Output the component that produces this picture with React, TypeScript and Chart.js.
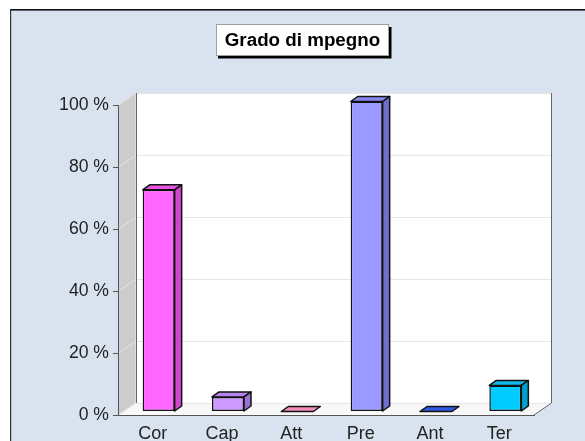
import React, { useEffect, useRef } from "react";
import { Chart, registerables } from "chart.js";

Chart.register(...registerables);

const titleText = "Grado di mpegno";
const categories = ["Cor", "Cap", "Att", "Pre", "Ant", "Ter"];
const values = [71.5, 4.7, 0, 100, 0, 8.4];
const faceColors = ["#FF66FF", "#CC99FF", "#FF99CC", "#9999FF", "#3366FF", "#00CCFF"];
const sideColors = ["#CC47CC", "#9A70D0", "#D07AA0", "#6F6FD0", "#2A4FC8", "#00A0CC"];
const topColors = ["#E455E4", "#B583EC", "#F08DBB", "#8787EC", "#3058E0", "#10B8E8"];
const yTicks = [0, 20, 40, 60, 80, 100];

const WALL_DX = 17.5;
const WALL_DY = 12;
const BAR_SHIFT_X = 6;
const BAR_SHIFT_Y = 3.5;
const BAR_DX = 7;
const BAR_DY = 5;
const INK = "#111111";

function poly(ctx: CanvasRenderingContext2D, pts: number[][], fill: string | null, stroke: string | null, lw = 1) {
  ctx.beginPath();
  pts.forEach(([x, y], i) => (i ? ctx.lineTo(x, y) : ctx.moveTo(x, y)));
  ctx.closePath();
  if (fill) {
    ctx.fillStyle = fill;
    ctx.fill();
  }
  if (stroke) {
    ctx.strokeStyle = stroke;
    ctx.lineWidth = lw;
    ctx.stroke();
  }
}

const scene = {
  id: "scene",
  afterLayout(chart: any) {
    chart.titleBlock.left += 35.5;
    chart.titleBlock.right += 35.5;
  },
  beforeDraw(chart: any) {
    const { ctx, width, height } = chart;
    ctx.save();
    ctx.fillStyle = "#ffffff";
    ctx.fillRect(0, 0, width, height);
    ctx.fillStyle = "#D9E3F0";
    ctx.fillRect(10, 9, width - 10, height - 9);
    ctx.fillStyle = "#111111";
    ctx.fillRect(10, 9, width - 10, 1.6);
    ctx.fillStyle = "#333333";
    ctx.fillRect(10, 9, 1.2, height - 9);
    // title plate
    ctx.fillStyle = "#000000";
    ctx.fillRect(218, 27, 173.5, 31.5);
    ctx.fillStyle = "#ffffff";
    ctx.fillRect(216.5, 24.5, 172, 31);
    ctx.strokeStyle = "#A0A0A0";
    ctx.lineWidth = 1;
    ctx.strokeRect(216.5, 24.5, 172, 31);
    ctx.restore();
  },
  beforeDatasetsDraw(chart: any) {
    const { ctx, chartArea: a, scales } = chart;
    const y = scales.y;
    const L = a.left, R = a.right, T = a.top, B = a.bottom;
    ctx.save();
    // back wall, side wall, floor
    poly(ctx, [[L + WALL_DX, T - WALL_DY], [R + WALL_DX, T - WALL_DY], [R + WALL_DX, B - WALL_DY], [L + WALL_DX, B - WALL_DY]], "#ffffff", null);
    poly(ctx, [[L, T], [L + WALL_DX, T - WALL_DY], [L + WALL_DX, B - WALL_DY], [L, B]], "#CCCCCC", null);
    poly(ctx, [[L, B], [L + WALL_DX, B - WALL_DY], [R + WALL_DX, B - WALL_DY], [R, B]], "#F8F8F8", null);
    // gridlines
    ctx.strokeStyle = "#E6E6E6";
    ctx.lineWidth = 1;
    yTicks.forEach((t) => {
      const py = Math.round(y.getPixelForValue(t)) + 0.5;
      ctx.beginPath();
      ctx.moveTo(L, py);
      ctx.lineTo(L + WALL_DX, py - WALL_DY);
      ctx.lineTo(R + WALL_DX, py - WALL_DY);
      ctx.stroke();
    });
    // wall edges
    ctx.strokeStyle = "#666666";
    ctx.beginPath();
    ctx.moveTo(Math.round(L + WALL_DX) + 0.5, T - WALL_DY);
    ctx.lineTo(Math.round(L + WALL_DX) + 0.5, B - WALL_DY);
    ctx.moveTo(Math.round(R + WALL_DX) - 0.5, T - WALL_DY);
    ctx.lineTo(Math.round(R + WALL_DX) - 0.5, B - WALL_DY);
    ctx.lineTo(R, B);
    ctx.stroke();
    ctx.restore();
    // bars sit in the middle of the depth
    ctx.save();
    ctx.translate(BAR_SHIFT_X, -BAR_SHIFT_Y);
  },
  afterDatasetsDraw(chart: any) {
    const { ctx } = chart;
    const bars = chart.getDatasetMeta(0).data;
    ctx.lineJoin = "round";
    bars.forEach((bar: any, i: number) => {
      const hw = bar.width / 2;
      const x0 = bar.x - hw, x1 = bar.x + hw;
      const top = bar.y, bot = bar.base;
      poly(ctx, [[x0, top], [x0 + BAR_DX, top - BAR_DY], [x1 + BAR_DX, top - BAR_DY], [x1, top]], topColors[i], INK, 1.5);
      if (bot - top > 0.5) {
        poly(ctx, [[x1, top], [x1 + BAR_DX, top - BAR_DY], [x1 + BAR_DX, bot - BAR_DY], [x1, bot]], sideColors[i], INK, 1.5);
      }
    });
    ctx.restore();
  },
};

export default function App() {
  const ref = useRef<HTMLCanvasElement>(null);
  useEffect(() => {
    const chart = new Chart(ref.current!, {
      type: "bar",
      data: {
        labels: categories,
        datasets: [
          {
            data: values,
            backgroundColor: faceColors,
            borderColor: INK,
            borderWidth: 1.5,
            borderSkipped: false,
            inflateAmount: 0,
            barThickness: 32,
            clip: false,
          } as any,
        ],
      },
      plugins: [scene as any],
      options: {
        responsive: false,
        animation: false,
        events: [],
        layout: { padding: { top: 29.7, right: 51, bottom: 0, left: 0 } },
        plugins: {
          legend: { display: false },
          tooltip: { enabled: false },
          title: {
            display: true,
            text: titleText,
            color: "#000000",
            font: { family: "'Liberation Sans'", size: 18.8, weight: "bold" },
            padding: { top: 0, bottom: 52.74 },
          },
        },
        scales: {
          x: {
            afterFit: (s: any) => { s.height = 26; },
            grid: { display: false },
            border: { display: true, color: "#555555", width: 1, z: 1 },
            ticks: { color: "#222222", font: { family: "'Liberation Sans'", size: 18 }, padding: 0, maxRotation: 0 },
          },
          y: {
            min: 0,
            max: 100,
            afterFit: (s: any) => { s.width = 118; },
            afterBuildTicks: (s: any) => { s.ticks = yTicks.map((value) => ({ value })); },
            grid: { display: true, drawOnChartArea: false, drawTicks: true, tickLength: 5, color: "#555555" },
            border: { display: true, color: "#555555", width: 1, z: 1 },
            ticks: {
              color: "#222222",
              font: { family: "'Liberation Sans'", size: 17.6 },
              padding: 4,
              callback: (v: any) => `${v} %`,
            },
          },
        },
      },
    });
    return () => chart.destroy();
  }, []);
  return <canvas ref={ref} width={585} height={441} style={{ position: "absolute", left: 0, top: 0, display: "block" }} />;
}
